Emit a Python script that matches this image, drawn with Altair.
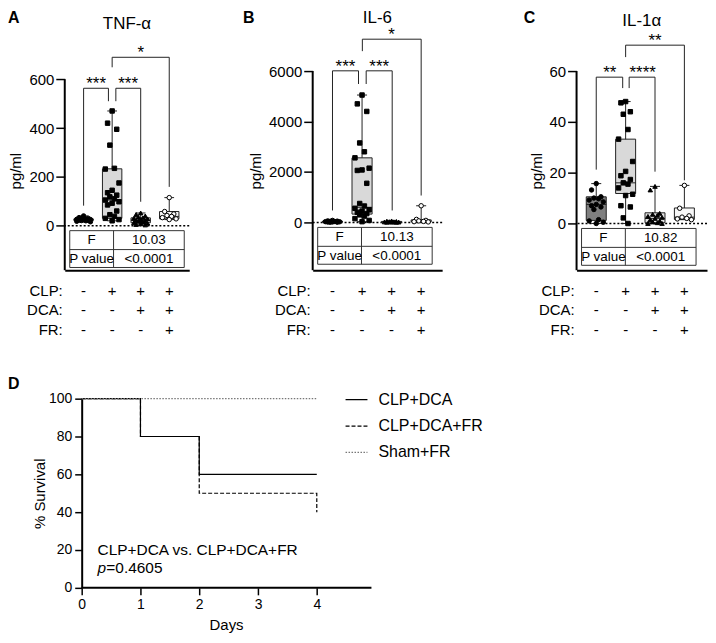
import altair as alt
import pandas as pd

FONT = "Liberation Sans"

# ---------------- shared categories ----------------
GROUPS = [1, 2, 3, 4]
ROW_LABELS = ["CLP:", "DCA:", "FR:"]
ROW_SIGNS = [["-", "+", "+", "+"], ["-", "-", "+", "+"], ["-", "-", "-", "+"]]
TABLE_ROWS = ["F", "P value"]

# ---------------- Panel A: TNF-α ----------------
TNF_TICKS = [0, 200, 400, 600]
TNF_PTS = [
    [40, 33, 30, 28, 27, 26, 25, 24, 23, 22, 21, 20, 18, 16],
    [470, 420, 395, 330, 235, 232, 175, 145, 135, 125, 118, 110, 105, 98, 92, 85, 60, 45, 38, 30, 25, 20],
    [52, 46, 40, 35, 32, 30, 28, 25, 22, 20, 18, 15, 12, 10, 8, 5, 3],
    [115, 58, 48, 42, 38, 33, 28, 25],
]
TNF_Q1 = [21, 30, 12, 28]
TNF_MED = [24, 105, 22, 38]
TNF_Q3 = [28, 233, 32, 58]
TNF_MIN = [16, 20, 3, 25]
TNF_MAX = [40, 470, 52, 115]
TNF_F = "10.03"
TNF_P = "<0.0001"
TNF_BR_XA = [1.0, 2.13, 2.0]
TNF_BR_XB = [1.87, 3.0, 4.0]
TNF_BR_Y = [563, 563, 690]
TNF_BR_YA = [82, 510, 649]
TNF_BR_YB = [510, 98, 159]
TNF_BR_LAB = ["***", "***", "*"]
TNF_BR_XM = [1.44, 2.56, 3.0]

# ---------------- Panel B: IL-6 ----------------
IL6_TICKS = [0, 2000, 4000, 6000]
IL6_PTS = [
    [80, 60, 50, 40, 35, 30, 25, 20, 15, 10, 8],
    [5050, 4700, 4400, 3150, 2800, 2560, 2150, 2080, 2060, 1550, 750, 650, 560, 500, 450, 400, 350, 300, 250, 150, 80, 30],
    [60, 50, 40, 30, 25, 20, 15, 10, 8, 5],
    [660, 120, 80, 60, 40, 30, 20],
]
IL6_Q1 = [15, 330, 10, 25]
IL6_MED = [30, 600, 22, 45]
IL6_Q3 = [50, 2560, 40, 100]
IL6_MIN = [8, 30, 5, 20]
IL6_MAX = [80, 5050, 60, 660]
IL6_F = "10.13"
IL6_P = "<0.0001"
IL6_BR_XA = [1.0, 2.14, 2.01]
IL6_BR_XB = [1.88, 3.02, 4.0]
IL6_BR_Y = [6010, 6010, 7264]
IL6_BR_YA = [474, 5488, 6790]
IL6_BR_YB = [5488, 474, 1066]
IL6_BR_LAB = ["***", "***", "*"]
IL6_BR_XM = [1.44, 2.58, 3.0]

# ---------------- Panel C: IL-1α ----------------
IL1_TICKS = [0, 20, 40, 60]
IL1_PTS = [
    [15.7, 13.2, 10.5, 10.0, 9.7, 9.2, 8.5, 7.5, 7.0, 6.5, 5.5, 1.5, 1.0, 0.5, 0.0],
    [48, 47.5, 44, 43, 37, 33.2, 24.4, 20.5, 18.8, 17.3, 16, 15.5, 14, 11.5, 11, 7, 6.5, 2.2, 0],
    [14.6, 13.2, 4.0, 3.6, 3.2, 2.8, 2.4, 2.0, 1.5, 1.0, 0.6, 0.3, 0.0, 0.0],
    [15, 6.0, 3.0, 2.5, 2.0, 1.8, 1.5],
]
IL1_Q1 = [1.2, 11.8, 0.3, 1.6]
IL1_MED = [7.5, 16, 2.0, 2.5]
IL1_Q3 = [10.5, 33.2, 4.2, 6.1]
IL1_MIN = [0, 0, 0, 1.5]
IL1_MAX = [15.7, 48, 14.6, 15]
IL1_F = "10.82"
IL1_P = "<0.0001"
IL1_BR_XA = [1.0, 2.12, 2.0]
IL1_BR_XB = [1.9, 3.0, 4.0]
IL1_BR_Y = [57.6, 57.6, 70.2]
IL1_BR_YA = [21.2, 53.3, 65.5]
IL1_BR_YB = [53.3, 20.4, 17.0]
IL1_BR_LAB = ["**", "****", "**"]
IL1_BR_XM = [1.46, 2.58, 3.0]

# ---------------- Panel D: survival ----------------
SURV_GROUPS = ["CLP+DCA", "CLP+DCA+FR", "Sham+FR"]
SURV_DAYS = [0, 1, 2, 4]
SURV_DCA = [100, 80, 60, 60]
SURV_DCA_FR = [100, 80, 50, 40]
SURV_SHAM = [100, 100, 100, 100]
SURV_XTICKS = [0, 1, 2, 3, 4]
SURV_YTICKS = [0, 20, 40, 60, 80, 100]
SURV_XMAX = 4.93
ANNOT_TEXT = "CLP+DCA vs. CLP+DCA+FR"
ANNOT_P = "p"
ANNOT_PVAL = "=0.4605"
ANNOT_X = 0.27
ANNOT_Y1 = 20.2
ANNOT_Y2 = 10.4

# ---------------- styles ----------------
BOX_FILL = ["#7f7f7f", "#d9d9d9", "#e2e2e2", "#f7f7f7"]
PT_SHAPE = ["circle", "square", "triangle-up", "circle"]
PT_FILL = ["black", "black", "black", "white"]
JIT = [0, -0.16, 0.16, -0.08, 0.08, -0.24, 0.24]
LINE_COL = "#222222"


def txt(label, x, y, size=15, **kw):
    return alt.Chart(pd.DataFrame({"t": [label]})).mark_text(
        fontSize=size, font=FONT, color="black", **kw
    ).encode(x=x, y=y, text="t:N")


def panel(letter, title, W, H, xdom, ydom, ticks, pts, q1, med, q3, lo, hi,
          br, fval, pval, letter_xy, title_y):
    z = H * ydom[1] / (ydom[1] - ydom[0])
    xs = alt.Scale(domain=xdom, nice=False, zero=False)
    ys = alt.Scale(domain=ydom, nice=False, zero=False)
    xax = alt.Axis(values=[0], labels=False, ticks=False, title="", grid=False,
                   domainWidth=2, domainColor="black")
    yax = alt.Axis(values=ticks, title="pg/ml", format="d", grid=False, domain=False,
                   tickColor="black", tickWidth=1.5, tickSize=9,
                   labelFontSize=15, titleFontSize=15, labelPadding=2, titlePadding=5,
                   titleFontWeight="normal", labelColor="black", titleColor="black",
                   labelFont=FONT, titleFont=FONT)

    def X(f):
        return alt.X(f, type="quantitative", scale=xs, axis=xax)

    def Y(f):
        return alt.Y(f, type="quantitative", scale=ys, axis=yax)

    one = pd.DataFrame({"z": [0], "x0": [xdom[0]], "ylo": [ydom[0]], "yhi": [ticks[-1]]})
    st = pd.DataFrame({"g": GROUPS, "q1": q1, "med": med, "q3": q3, "lo": lo, "hi": hi,
                       "fill": BOX_FILL})
    st["xl"] = st.g - 0.34
    st["xr"] = st.g + 0.34
    st["cl"] = st.g - 0.17
    st["cr"] = st.g + 0.17
    rows = []
    for gi, vals in zip(GROUPS, pts):
        for i, v in enumerate(vals):
            rows.append({"g": gi, "v": v, "px": gi + JIT[i % len(JIT)],
                         "shape": PT_SHAPE[gi - 1], "pf": PT_FILL[gi - 1]})
    pdf = pd.DataFrame(rows)
    bdf = pd.DataFrame(br)

    layers = [
        # y axis line (ends at the top tick)
        alt.Chart(one).mark_rule(color="black", strokeWidth=2).encode(x=X("x0"), y=Y("ylo"), y2="yhi"),
        alt.Chart(one).mark_rule(color="black", strokeDash=[2, 2], strokeWidth=1.5).encode(y=Y("z")),
        alt.Chart(st).mark_rule(color=LINE_COL, strokeWidth=1).encode(x=X("g"), y=Y("lo"), y2="hi"),
        alt.Chart(st).mark_rule(color=LINE_COL, strokeWidth=1).encode(x=X("cl"), x2="cr", y=Y("hi")),
        alt.Chart(st).mark_rule(color=LINE_COL, strokeWidth=1).encode(x=X("cl"), x2="cr", y=Y("lo")),
        alt.Chart(st).mark_rect(stroke=LINE_COL, strokeWidth=1).encode(
            x=X("xl"), x2="xr", y=Y("q1"), y2="q3", fill=alt.Fill("fill:N", scale=None)),
        alt.Chart(st).mark_rule(color=LINE_COL, strokeWidth=1).encode(x=X("xl"), x2="xr", y=Y("med")),
        alt.Chart(pdf).mark_point(filled=True, size=20, strokeWidth=1, opacity=1).encode(
            x=X("px"), y=Y("v"), shape=alt.Shape("shape:N", scale=None),
            fill=alt.Fill("pf:N", scale=None), stroke=alt.value("black")),
        alt.Chart(bdf).mark_rule(color=LINE_COL, strokeWidth=1).encode(x=X("xa"), x2="xb", y=Y("y")),
        alt.Chart(bdf).mark_rule(color=LINE_COL, strokeWidth=1).encode(x=X("xa"), y=Y("y"), y2="ya"),
        alt.Chart(bdf).mark_rule(color=LINE_COL, strokeWidth=1).encode(x=X("xb"), y=Y("y"), y2="yb"),
        alt.Chart(bdf).mark_text(fontSize=17, font=FONT, baseline="alphabetic", color="black",
                                 dy=1).encode(x=X("xm"), y=Y("y"), text="lab:N"),
        # results table
        alt.Chart(one).mark_rect(fillOpacity=0, stroke="#333333", strokeWidth=1).encode(
            x=alt.value(5), x2=alt.value(120), y=alt.value(z + 5), y2=alt.value(z + 42)),
        alt.Chart(one).mark_rule(color="#333333", strokeWidth=1).encode(
            x=alt.value(5), x2=alt.value(120), y=alt.value(z + 24)),
        alt.Chart(one).mark_rule(color="#333333", strokeWidth=1).encode(
            x=alt.value(49), y=alt.value(z + 5), y2=alt.value(z + 42)),
        txt(TABLE_ROWS[0], alt.value(27), alt.value(z + 14.5), 13.5, baseline="middle"),
        txt(TABLE_ROWS[1], alt.value(27), alt.value(z + 33.5), 13.5, baseline="middle"),
        txt(fval, alt.value(84.5), alt.value(z + 14.5), 13.5, baseline="middle"),
        txt(pval, alt.value(84.5), alt.value(z + 33.5), 13.5, baseline="middle"),
        # letter and title
        txt(letter, alt.value(letter_xy[0]), alt.value(letter_xy[1]), 16,
            fontWeight="bold", align="left", baseline="top"),
        txt(title, alt.value(W / 2), alt.value(title_y), 17, baseline="top"),
    ]
    row_dy = [21, 40, 60]
    for r in range(3):
        layers.append(txt(ROW_LABELS[r], alt.value(-2), alt.value(H + row_dy[r]), 15,
                          align="right", baseline="middle"))
        sdf = pd.DataFrame({"g": GROUPS, "s": ROW_SIGNS[r]})
        layers.append(alt.Chart(sdf).mark_text(fontSize=15, font=FONT, baseline="middle",
                                               color="black").encode(
            x=X("g"), y=alt.value(H + row_dy[r]), text="s:N"))
    return alt.layer(*layers).properties(width=W, height=H)


def brackets(xa, xb, y, ya, yb, lab, xm):
    return {"xa": xa, "xb": xb, "y": y, "ya": ya, "yb": yb, "lab": lab, "xm": xm}


pA = panel("A", "TNF-α", 125, 200, [0.34, 4.70], [-182.5, 633.5], TNF_TICKS, TNF_PTS,
           TNF_Q1, TNF_MED, TNF_Q3, TNF_MIN, TNF_MAX,
           brackets(TNF_BR_XA, TNF_BR_XB, TNF_BR_Y, TNF_BR_YA, TNF_BR_YB, TNF_BR_LAB, TNF_BR_XM),
           TNF_F, TNF_P, (-57, -61), -55)
pB = panel("B", "IL-6", 130, 200, [0.33, 4.71], [-1895, 6000], IL6_TICKS, IL6_PTS,
           IL6_Q1, IL6_MED, IL6_Q3, IL6_MIN, IL6_MAX,
           brackets(IL6_BR_XA, IL6_BR_XB, IL6_BR_Y, IL6_BR_YA, IL6_BR_YB, IL6_BR_LAB, IL6_BR_XM),
           IL6_F, IL6_P, (-70, -61), -61)
pC = panel("C", "IL-1α", 131, 200, [0.33, 4.77], [-18.4, 60], IL1_TICKS, IL1_PTS,
           IL1_Q1, IL1_MED, IL1_Q3, IL1_MIN, IL1_MAX,
           brackets(IL1_BR_XA, IL1_BR_XB, IL1_BR_Y, IL1_BR_YA, IL1_BR_YB, IL1_BR_LAB, IL1_BR_XM),
           IL1_F, IL1_P, (-53, -61), -58)

# ---------------- survival panel ----------------
sdf = pd.DataFrame({
    "day": SURV_DAYS * 3,
    "surv": SURV_DCA + SURV_DCA_FR + SURV_SHAM,
    "grp": [SURV_GROUPS[0]] * 4 + [SURV_GROUPS[1]] * 4 + [SURV_GROUPS[2]] * 4,
})
D_SHIFT = 17
DW, DH = 291 + D_SHIFT, 190
dxs = alt.Scale(domain=[-D_SHIFT / 59.0, SURV_XMAX], nice=False, zero=False)
dys = alt.Scale(domain=[0, 100], nice=False)
dxax = alt.Axis(values=SURV_XTICKS, title="Days", format="d", grid=False, domain=False,
                tickWidth=1.5, tickSize=7, labelFontSize=14, titleFontSize=15,
                labelPadding=3, titlePadding=6, titleFontWeight="normal", titleX=D_SHIFT + 145,
                tickColor="black", labelColor="black", titleColor="black",
                labelFont=FONT, titleFont=FONT)
dyax = alt.Axis(values=SURV_YTICKS, title="% Survival", grid=False, domainWidth=2, offset=-D_SHIFT,
                tickWidth=1.5, tickSize=7, labelFontSize=14, titleFontSize=15,
                labelPadding=3, titlePadding=1, titleFontWeight="normal",
                domainColor="black", tickColor="black", labelColor="black", titleColor="black",
                labelFont=FONT, titleFont=FONT)
leg = alt.Legend(title=None, orient="none", legendX=281, legendY=-11, symbolType="stroke",
                 symbolSize=484, symbolStrokeWidth=1.2, labelFontSize=16, labelOffset=10,
                 rowPadding=6.5, padding=0, labelFont=FONT, labelColor="black")


def DX(f):
    return alt.X(f, type="quantitative", scale=dxs, axis=dxax)


def DY(f):
    return alt.Y(f, type="quantitative", scale=dys, axis=dyax)


lines = alt.Chart(sdf).mark_line(interpolate="step-after", strokeWidth=1.2).encode(
    x=DX("day"),
    y=DY("surv"),
    color=alt.Color("grp:N", scale=alt.Scale(domain=SURV_GROUPS, range=["black", "black", "#777777"]),
                    legend=leg),
    strokeDash=alt.StrokeDash("grp:N", scale=alt.Scale(domain=SURV_GROUPS,
                                                       range=[[1, 0], [4, 2], [1.5, 1.5]]),
                              legend=leg),
)
base_df = pd.DataFrame({"x0": [0], "x1": [SURV_XMAX], "y0": [0]})
xbase = alt.Chart(base_df).mark_rule(color="black", strokeWidth=2).encode(
    x=DX("x0"), x2="x1", y=DY("y0"))
adf = pd.DataFrame({"x": [ANNOT_X], "y1": [ANNOT_Y1], "y2": [ANNOT_Y2],
                    "t1": [ANNOT_TEXT], "t2": [ANNOT_P], "t3": [ANNOT_PVAL]})
ann1 = alt.Chart(adf).mark_text(fontSize=15.5, font=FONT, align="left", baseline="middle",
                                color="black").encode(x=DX("x"), y=DY("y1"), text="t1:N")
ann2 = alt.Chart(adf).mark_text(fontSize=15.5, font=FONT, align="left", baseline="middle",
                                fontStyle="italic", color="black").encode(
    x=DX("x"), y=DY("y2"), text="t2:N")
ann3 = alt.Chart(adf).mark_text(fontSize=15.5, font=FONT, align="left", baseline="middle",
                                dx=8.8, color="black").encode(x=DX("x"), y=DY("y2"), text="t3:N")
dletter = txt("D", alt.value(-57), alt.value(-23), 16, fontWeight="bold", align="left",
              baseline="top")
pD = alt.layer(xbase, lines, ann1, ann2, ann3, dletter).properties(width=DW, height=DH)

right = alt.concat(pB, pC, columns=2, spacing=81)
top = alt.concat(pA, right, columns=2, spacing=53)
chart = alt.concat(top, pD, columns=1, spacing=38).resolve_scale(
    color="independent", strokeDash="independent"
).resolve_legend(
    color="independent", strokeDash="independent"
).properties(padding=0).configure_view(
    strokeWidth=0
).configure_axis(labelFont=FONT, titleFont=FONT)

chart.save("out.html", embed_options={"renderer": "svg", "actions": False})
